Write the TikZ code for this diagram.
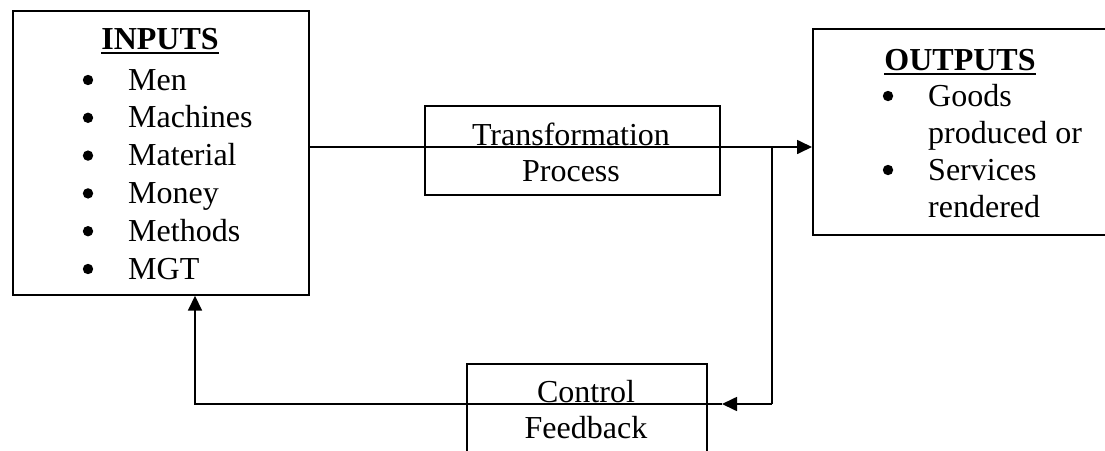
\documentclass[tikz,border=0pt]{standalone}
\usepackage{fontspec}
\setmainfont{Liberation Serif}
\usetikzlibrary{arrows.meta,calc}
\newcommand\myuline[1]{\setbox0\hbox{#1}\rlap{\rule[-5pt]{\wd0}{2.4pt}}\box0}
\tikzset{
  boxnode/.style={draw, line width=1.7pt, inner sep=0pt, anchor=north west},
  txt/.style={font=\fontsize{32}{36}\selectfont, inner sep=0pt, anchor=base},
  itemtxt/.style={txt, anchor=base west},
  bul/.style={fill=black},
  conn/.style={line width=1.7pt},
  arr/.style={conn, -{Triangle[length=15pt,width=14pt]}}
}
\begin{document}
\begin{tikzpicture}[x=1pt,y=-1pt]
\useasboundingbox (0,0) rectangle (1105,450);
\clip (0,0) rectangle (1105,450);
% boxes
\node[boxnode, minimum width=296pt, minimum height=284pt] (inputs) at (12,10) {};
\node[boxnode, minimum width=295pt, minimum height=89pt] (trans) at (424,105) {};
\node[boxnode, minimum width=310pt, minimum height=206pt] (outputs) at (812,28) {};
\node[boxnode, minimum width=240pt, minimum height=110pt] (ctrl) at (466,363) {};
% INPUTS text
\node[txt] (intitle) at (160,49) {\textbf{\myuline{INPUTS}}};
\foreach \t [count=\i] in {Men,Machines,Material,Money,Methods,MGT}{
  \node[itemtxt] (in\i) at (128,{90+37.8*(\i-1)}) {\t};
  \fill[bul] (88,{80+37.8*(\i-1)}) circle (5.2);
}
% Transformation text
\node[txt] (tr1) at (571,145) {Transformation};
\node[txt] (tr2) at (571,181) {Process};
% OUTPUTS text
\node[txt] (outtitle) at (960,70) {\textbf{\myuline{OUTPUTS}}};
\node[itemtxt] (o1) at (928,106) {Goods};
\node[itemtxt] (o2) at (928,143) {produced or};
\node[itemtxt] (o3) at (928,180) {Services};
\node[itemtxt] (o4) at (928,217) {rendered};
\fill[bul] (888,96) circle (5.2);
\fill[bul] (888,170) circle (5.2);
% Control text
\node[txt] (c1) at (586,402) {Control};
\node[txt] (c2) at (586,438) {Feedback};
% connectors
\coordinate (main) at (0,147);
\coordinate (j) at (772,147);
\coordinate (fbtip) at (722,404);
\draw[arr] (inputs.east |- main) -- (outputs.west |- main);
\draw[conn] (j) -- (j |- fbtip);
\draw[arr] (j |- fbtip) -- (fbtip);
\draw[arr] (fbtip) -| ($(inputs.south west)+(183,0)$);
\end{tikzpicture}
\end{document}
